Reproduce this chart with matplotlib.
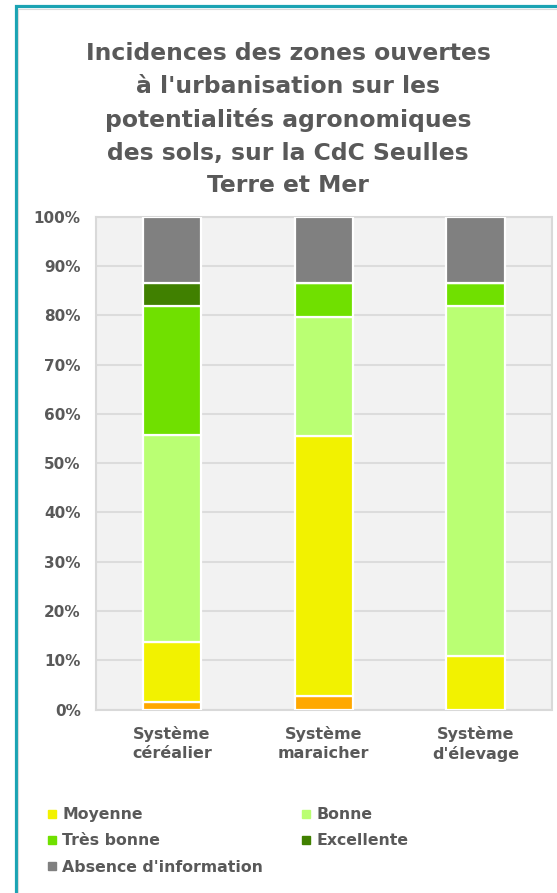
import matplotlib
matplotlib.use("Agg")
import matplotlib.pyplot as plt
from matplotlib.patches import Rectangle
from matplotlib.lines import Line2D
import numpy as np

# Data: share of each agronomic potential class (%) per farming system
categories = ["Système\ncéréalier", "Système\nmaraicher", "Système\nd'élevage"]
faible = [1.6, 2.7, 0.0]
moyenne = [12.1, 52.7, 10.8]
bonne = [42.1, 24.3, 71.1]
tres_bonne = [26.1, 6.8, 4.6]
excellente = [4.6, 0.0, 0.0]
absence = [13.5, 13.5, 13.5]

series = [
    ("Faible", faible, "#FFA800"),
    ("Moyenne", moyenne, "#F2F200"),
    ("Bonne", bonne, "#BAFF73"),
    ("Très bonne", tres_bonne, "#70E000"),
    ("Excellente", excellente, "#408000"),
    ("Absence d'information", absence, "#808080"),
]
legend_names = ["Moyenne", "Très bonne", "Absence d'information", "Bonne", "Excellente"]
yticks = [0, 10, 20, 30, 40, 50, 60, 70, 80, 90, 100]

TXT = "#595959"
W, H = 557, 893
fig = plt.figure(figsize=(W / 100, H / 100), dpi=100)
fig.patch.set_facecolor("white")
plt.rcParams["font.family"] = ["DejaVu Sans"]

# Outer frame
fig.patches.append(Rectangle((15.5 / W, -0.1), 1.2, (H - 6.5) / H + 0.1,
                             transform=fig.transFigure, fill=False,
                             edgecolor="#1BA3B3", linewidth=2.3, zorder=0))
fig.patches.append(Rectangle((18 / W, -0.1), 1.2, (H - 9) / H + 0.1,
                             transform=fig.transFigure, fill=False,
                             edgecolor="#DADADA", linewidth=0.8, zorder=0))

ax = fig.add_axes([96 / W, (H - 709.5) / H, (551.5 - 96) / W, (709.5 - 216.7) / H])
ax.set_facecolor("#F2F2F2")
x = np.arange(len(categories))
bottom = np.zeros(len(categories))
handles = {}
for name, vals, col in series:
    vals = np.array(vals)
    ax.bar(x, vals, width=0.385, bottom=bottom, color=col,
           edgecolor="white", linewidth=1.6, zorder=3)
    handles[name] = Line2D([], [], marker="s", linestyle="none", markersize=6,
                           markerfacecolor=col, markeredgecolor=col)
    bottom += vals

ax.set_xlim(-0.5, len(categories) - 0.5)
ax.set_ylim(0, 100)
ax.set_yticks(yticks)
ax.set_yticklabels([f"{t}%" for t in yticks])
ax.set_xticks(x)
ax.set_xticklabels(categories)
ax.yaxis.grid(True, color="#DCDCDC", linewidth=1.5, zorder=0)
ax.set_axisbelow(True)
for s in ax.spines.values():
    s.set_color("#D9D9D9")
    s.set_linewidth(1.5)
ax.tick_params(axis="both", length=0, colors=TXT)
ax.tick_params(axis="y", pad=11)
ax.tick_params(axis="x", pad=12)
for lab in ax.get_yticklabels():
    lab.set_fontweight("bold")
    lab.set_fontsize(11)
for lab in ax.get_xticklabels():
    lab.set_fontweight("bold")
    lab.set_fontsize(11.5)
    lab.set_linespacing(1.3)

fig.text(288 / W, 1 - 42 / H,
         "Incidences des zones ouvertes\nà l'urbanisation sur les\npotentialités agronomiques\ndes sols, sur la CdC Seulles\nTerre et Mer",
         ha="center", va="top", fontsize=16.9, fontweight="bold", color=TXT,
         linespacing=1.54)

leg = fig.legend([handles[n] for n in legend_names], legend_names,
                 loc="upper left", bbox_to_anchor=(33 / W, 1 - 793 / H),
                 ncol=2, frameon=False, handlelength=0.6, handletextpad=0.35,
                 columnspacing=2.45, labelspacing=0.72,
                 prop={"weight": "bold", "size": 11.3})
for t in leg.get_texts():
    t.set_color(TXT)

fig.savefig("out.png", dpi=100, facecolor="white")
